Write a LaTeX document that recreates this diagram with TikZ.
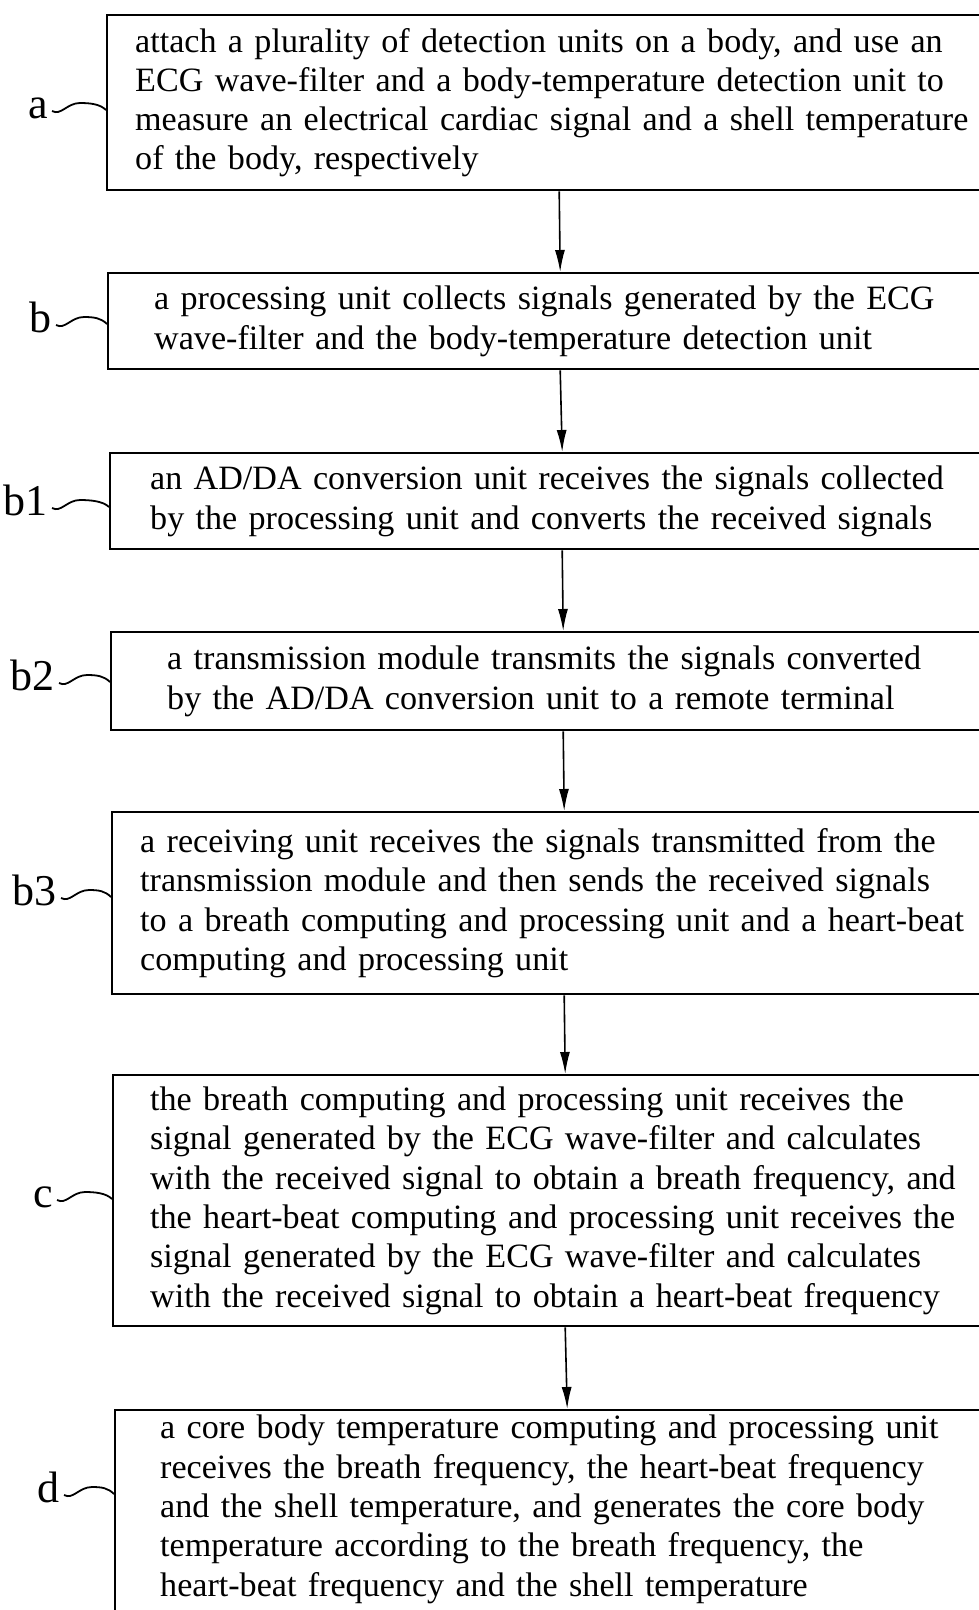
\documentclass[tikz,border=0pt]{standalone}
\usepackage{fontspec}
\setmainfont{Liberation Serif}
\usetikzlibrary{arrows.meta,calc}
\hyphenpenalty=10000
\exhyphenpenalty=10000

\tikzset{
  stepbox/.style={draw, line width=2.4pt, anchor=north west, align=left,
    minimum width=904pt, font=\fontsize{34.1}{39.3}\selectfont},
  steplabel/.style={anchor=base east, inner sep=0pt, font=\fontsize{44}{44}\selectfont},
  flow/.style={line width=1.6pt, -{Latex[length=22pt,width=10pt]}},
  lead/.style={line width=1.8pt}
}

\begin{document}
\begin{tikzpicture}[x=1pt,y=-1pt]
\useasboundingbox (0,0) rectangle (979,1610);
\clip (0,0) rectangle (979,1610);

% steps
\node[stepbox, inner xsep=28pt, text width=848pt, minimum height=175pt] (a) at (106,14)
  {attach a plurality of detection units on a body, and use an\\
   ECG wave-filter and a body-temperature detection unit to\\
   measure an electrical cardiac signal and a shell temperature\\
   of the body, respectively};
\node[stepbox, inner xsep=46pt, text width=812pt, minimum height=96pt] (b) at (107,272)
  {a processing unit collects signals generated by the ECG\\
   wave-filter and the body-temperature detection unit};
\node[stepbox, inner xsep=40pt, text width=824pt, minimum height=96pt] (b1) at (109,452)
  {an AD/DA conversion unit receives the signals collected\\
   by the processing unit and converts the received signals};
\node[stepbox, inner xsep=56pt, text width=792pt, minimum height=98pt] (b2) at (110,631)
  {a transmission module transmits the signals converted\\
   by the AD/DA conversion unit to a remote terminal};
\node[stepbox, inner xsep=28pt, text width=848pt, minimum height=182pt] (b3) at (111,811)
  {a receiving unit receives the signals transmitted from the\\
   transmission module and then sends the received signals\\
   to a breath computing and processing unit and a heart-beat\\
   computing and processing unit};
\node[stepbox, inner xsep=37pt, text width=830pt, minimum height=251pt] (c) at (112,1074)
  {the breath computing and processing unit receives the\\
   signal generated by the ECG wave-filter and calculates\\
   with the received signal to obtain a breath frequency, and\\
   the heart-beat computing and processing unit receives the\\
   signal generated by the ECG wave-filter and calculates\\
   with the received signal to obtain a heart-beat frequency};
\node[stepbox, inner xsep=45pt, text width=814pt, minimum height=211pt] (d) at (114,1409)
  {a core body temperature computing and processing unit\\
   receives the breath frequency, the heart-beat frequency\\
   and the shell temperature, and generates the core body\\
   temperature according to the breath frequency, the\\
   heart-beat frequency and the shell temperature\rule[-20pt]{0pt}{20pt}};

% step labels
\node[steplabel] (la) at (48,118) {a};
\node[steplabel] (lb) at (52,332) {b};
\node[steplabel] (lb1) at (48,515) {b1};
\node[steplabel] (lb2) at (55,690) {b2};
\node[steplabel] (lb3) at (57,905) {b3};
\node[steplabel] (lc) at (53,1207) {c};
\node[steplabel] (ld) at (60,1502) {d};

% arrows
\foreach \u/\v in {a/b,b/b1,b1/b2,b2/b3,b3/c,c/d}
  \draw[flow] (\u.south) -- (\v.north);

% squiggles from labels to boxes
\foreach \id in {a,b,b1,b2,b3,c,d}{
  \coordinate (s\id) at ([shift={(4,-7)}]l\id.base east);
  \draw[lead] (s\id) .. controls +(9,5) and +(-13,0) .. ++(28,-8)
    .. controls +(10,0) and +(-6,-6) .. ($(\id.west |- s\id)+(0,-1)$);
}
\end{tikzpicture}
\end{document}
